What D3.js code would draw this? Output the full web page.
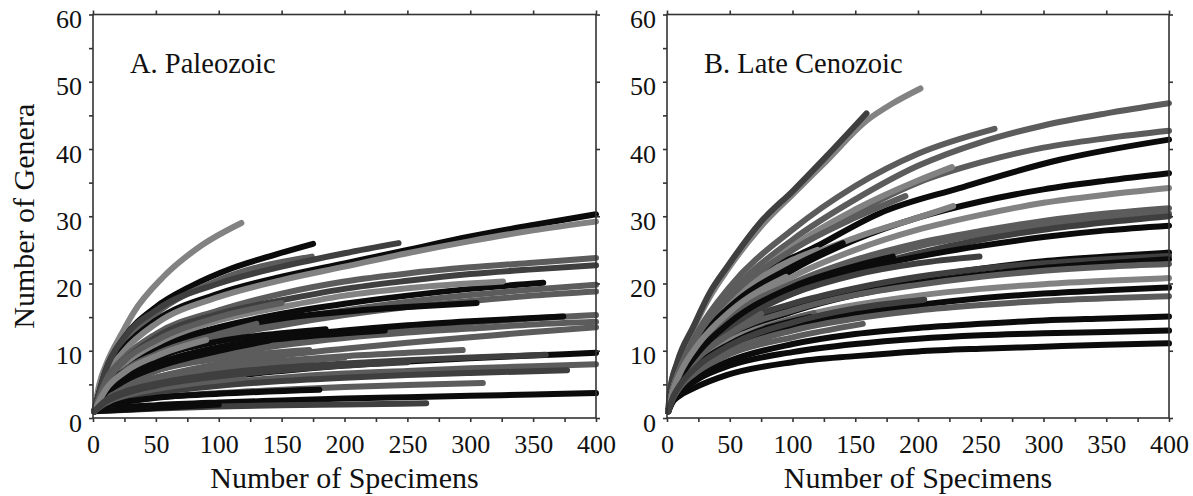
<!DOCTYPE html>
<html>
<head>
<meta charset="utf-8">
<script src="https://cdn.jsdelivr.net/npm/d3@7"></script>
<style>
  body { margin: 0; background: #fff; }
  svg text { font-family: "Liberation Serif", "Times New Roman", serif; fill: #111; }
</style>
</head>
<body>
<script>
const WIDTH = 1193;
const HEIGHT = 496;

// shade index: 0 black, 1 dark gray, 2 mid gray, 3 light gray
const paleozoicShades = [3, 0, 2, 0, 3, 1, 2, 1, 0, 3, 2, 2, 0, 2, 0, 2, 2, 0, 2, 0, 2, 2, 2, 1, 2, 0, 1, 0, 0, 2, 0, 2, 2, 1, 0, 3, 1];
const paleozoicCurves = [
  [[1,1],[5,5],[11,8.2],[23,12.6],[32,15.6],[56,21],[85,25.5],[118,29]],
  [[1,1],[10,7],[25,12],[50,16.5],[77,19.5],[111,22.3],[145,24.3],[175,25.9]],
  [[1,1],[10,6.5],[25,11],[50,15.5],[100,20.5],[174,24]],
  [[1,1],[10,6.5],[25,10.5],[50,14.5],[100,18.5],[150,21],[200,23],[250,25],[300,27],[350,28.7],[400,30.3]],
  [[1,1],[10,6],[25,10],[50,14],[100,18],[150,20.5],[200,22.5],[250,24.5],[300,26.3],[350,27.9],[400,29.2]],
  [[1,1],[10,7],[25,12],[50,16],[100,20],[150,22.5],[200,24.5],[243,26]],
  [[1,1],[10,5.5],[25,9],[50,12.5],[100,16],[150,18.5],[200,20.3],[250,21.5],[300,22.4],[350,23.1],[400,23.8]],
  [[1,1],[10,5],[25,8.5],[50,12],[100,15.5],[150,17.5],[200,19.2],[250,20.4],[300,21.4],[350,22.1],[400,22.7]],
  [[1,1],[10,4.5],[25,7.5],[50,10.5],[100,13.5],[150,15.5],[200,17],[250,18.2],[300,19.2],[358,20.1]],
  [[1,1],[10,5],[25,8],[50,11],[100,14.5],[150,16.5],[200,18.2],[250,19.3],[326,20.3]],
  [[1,1],[10,4.5],[25,7],[50,9.5],[100,12.5],[150,14.5],[200,16],[250,17.3],[300,18.3],[350,19.1],[400,19.8]],
  [[1,1],[10,4],[25,6.5],[50,9],[100,12],[150,13.8],[200,15.3],[250,16.5],[300,17.4],[350,18.2],[400,18.8]],
  [[1,1],[10,4.5],[25,7],[50,10],[100,13],[150,14.8],[200,15.8],[250,16.5],[305,17.1]],
  [[1,1],[10,3.5],[25,5.5],[50,7.5],[100,10],[150,11.5],[200,12.5],[250,13.4],[300,14.1],[350,14.8],[400,15.3]],
  [[1,1],[10,3.5],[25,5.8],[50,8],[100,10.5],[150,12],[200,13],[250,13.8],[300,14.4],[374,15.1]],
  [[1,1],[10,3.2],[25,5],[50,7],[100,9.3],[150,10.8],[200,11.9],[250,12.7],[300,13.3],[350,13.9],[400,14.3]],
  [[1,1],[10,3],[25,4.5],[50,6],[100,8],[150,9.3],[200,10.3],[250,11.2],[300,12],[350,12.8],[400,13.5]],
  [[1,1],[10,4],[25,6],[50,8],[100,10.5],[150,11.8],[200,12.6],[232,13]],
  [[1,1],[10,5],[25,8.5],[50,11.5],[100,15],[150,17.1]],
  [[1,1],[10,2.5],[25,3.5],[50,4.5],[100,6],[150,7],[200,7.8],[250,8.4],[300,8.9],[350,9.3],[400,9.7]],
  [[1,1],[10,3],[25,4.5],[50,6],[100,7.5],[150,8.5],[200,9.2],[250,9.7],[294,10.1]],
  [[1,1],[10,3],[25,5],[50,7],[100,8.8],[172,10.1]],
  [[1,1],[10,2],[25,3],[50,4],[100,5.2],[150,6],[200,6.6],[250,7],[300,7.4],[350,7.7],[400,8]],
  [[1,1],[10,2],[25,2.8],[50,3.7],[100,4.8],[150,5.5],[200,6],[250,6.4],[300,6.7],[377,7.1]],
  [[1,1],[10,1.8],[25,2.4],[50,3],[100,3.7],[150,4.2],[200,4.6],[250,4.9],[310,5.2]],
  [[1,1],[10,1.3],[25,1.6],[50,1.9],[100,2.3],[150,2.6],[200,2.9],[250,3.1],[300,3.3],[350,3.5],[400,3.7]],
  [[1,1],[25,1.2],[50,1.4],[100,1.7],[150,1.9],[200,2],[265,2.2]],
  [[1,1],[10,1.8],[25,2.4],[50,3],[100,3.6],[180,4.2]],
  [[1,1],[50,1.5],[100,2]],
  [[1,1],[10,2.2],[25,3.3],[50,4.3],[120,6]],
  [[1,1],[10,3.5],[25,5.5],[50,7.5],[100,10],[140,11.5]],
  [[1,1],[10,4],[25,7],[50,9.5],[100,12.5],[130,14]],
  [[1,1],[10,2.8],[25,4.2],[50,5.6],[100,7.2],[150,8.2],[200,9]],
  [[1,1],[10,2.4],[25,3.6],[50,4.8],[100,6.2],[150,7.1],[200,7.8],[250,8.3]],
  [[1,1],[10,3.8],[25,6.2],[50,8.8],[100,11.4],[150,12.6],[185,13.2]],
  [[1,1],[10,4.2],[25,6.8],[50,9.2],[90,11.6]],
  [[1,1],[10,2.6],[25,3.9],[50,5.1],[100,6.6],[150,7.5],[200,8.1],[250,8.6],[300,9],[360,9.4]]
];

const cenozoicShades = [3, 1, 2, 2, 2, 0, 3, 0, 3, 3, 2, 2, 1, 0, 0, 1, 0, 2, 3, 0, 2, 0, 0, 0, 2, 2, 1, 3, 0, 2, 0, 2, 0, 3, 1];
const cenozoicCurves = [
  [[1,1],[2.4,4],[8,8],[21,13.3],[34,18],[48,22],[74,28.3],[101,33.4],[127,38.2],[159,44.2],[180,46.8],[202,49]],
  [[1,1],[2.4,4],[8,8.2],[21,13.6],[34,18.6],[48,22.5],[74,29],[101,33.9],[127,38.9],[159,45.3]],
  [[1,1],[5,4.5],[10,7],[25,12.5],[50,18.5],[100,26.5],[150,32.5],[200,37.5],[250,41],[300,43.5],[350,45.3],[400,46.8]],
  [[1,1],[5,4.5],[10,7.2],[25,13],[50,19.5],[100,28],[150,34.5],[200,39.3],[261,43]],
  [[1,1],[5,4.3],[10,6.8],[25,12],[50,17.5],[100,25],[150,30.5],[200,35],[250,38],[300,40.2],[350,41.6],[400,42.7]],
  [[1,1],[5,4],[10,6],[25,11],[50,16.5],[74,21],[119,25.5],[170,30.5],[233,34.2],[313,38.4],[400,41.4]],
  [[1,1],[5,4.3],[10,6.8],[25,12],[50,17.5],[100,25.5],[150,31],[200,35.3],[227,37.3]],
  [[1,1],[5,4],[10,6.2],[25,10.5],[50,15.5],[100,22],[150,26.5],[200,29.8],[250,32.2],[300,34],[350,35.3],[400,36.4]],
  [[1,1],[5,4],[10,6],[25,10.5],[50,15],[100,21],[150,25],[200,28],[250,30.2],[300,32],[350,33.2],[400,34.2]],
  [[1,1],[5,4.5],[10,7],[25,12],[50,17],[100,23],[150,26.8],[200,29.8],[228,31.5]],
  [[1,1],[5,3.8],[10,5.8],[25,10],[50,14.5],[100,20],[150,23.5],[200,26],[250,27.8],[300,29.3],[350,30.4],[400,31.2]],
  [[1,1],[5,4],[10,6],[25,10.5],[50,15],[100,20],[150,23],[200,25.5],[250,27.3],[300,28.7],[350,29.7],[400,30.4]],
  [[1,1],[5,3.5],[10,5.5],[25,9.5],[50,13.5],[100,18.5],[150,22],[200,24.5],[250,26.5],[300,28],[350,29.1],[400,30]],
  [[1,1],[5,3.5],[10,5.5],[25,9.5],[50,14],[100,19],[150,22],[200,24],[250,25.6],[300,26.9],[350,27.9],[400,28.6]],
  [[1,1],[5,3.5],[10,5.3],[25,9],[50,12.5],[100,16.5],[150,19],[200,20.8],[250,22.2],[300,23.3],[350,24],[400,24.6]],
  [[1,1],[5,4],[10,6],[25,10],[50,13.5],[100,17],[150,19.3],[200,21],[250,22.2],[300,23],[350,23.6],[400,24.1]],
  [[1,1],[5,3.2],[10,5],[25,8.5],[50,12],[100,15.8],[150,18.3],[200,20],[250,21.3],[300,22.3],[350,23],[400,23.6]],
  [[1,1],[5,3.5],[10,5.3],[25,9],[50,12.5],[100,16],[150,18.3],[200,19.8],[250,21],[300,21.9],[350,22.5],[400,22.9]],
  [[1,1],[5,3.3],[10,5],[25,8.5],[50,11.5],[100,14.8],[150,16.8],[200,18.2],[250,19.2],[300,19.9],[350,20.4],[400,20.8]],
  [[1,1],[5,3],[10,4.5],[25,7.5],[50,10.5],[100,13.5],[150,15.5],[200,16.8],[250,17.8],[300,18.5],[350,19],[400,19.4]],
  [[1,1],[5,3],[10,4.5],[25,7.3],[50,10],[100,13],[150,14.8],[200,16],[250,16.8],[300,17.4],[350,17.8],[400,18.1]],
  [[1,1],[5,2.8],[10,4],[25,6.3],[50,8.5],[100,11],[150,12.5],[200,13.4],[250,14],[300,14.5],[350,14.8],[400,15.1]],
  [[1,1],[5,2.7],[10,3.8],[25,5.8],[50,7.8],[100,9.8],[150,11],[200,11.8],[250,12.3],[300,12.6],[350,12.8],[400,13]],
  [[1,1],[5,2.5],[10,3.3],[21,4.4],[48,6.4],[100,8.3],[150,9.2],[200,9.9],[250,10.3],[300,10.6],[350,10.9],[400,11.1]],
  [[1,1],[5,3],[10,4.5],[25,7],[50,9.5],[100,12],[156,14]],
  [[1,1],[5,3.3],[10,5],[25,8],[50,11],[117,15.6]],
  [[1,1],[5,4],[10,6],[25,10],[50,14],[100,18.5],[150,21.3],[200,23],[249,24]],
  [[1,1],[5,4.5],[10,7],[25,12],[50,17],[80,21.5],[120,25]],
  [[1,1],[5,3.5],[10,5],[25,8],[50,11],[114,15]],
  [[1,1],[5,3.5],[10,5.5],[25,9],[50,12.5],[75,15.5]],
  [[1,1],[5,4],[10,6.5],[25,11.5],[50,16.5],[100,22.5],[140,26]],
  [[1,1],[5,4.5],[10,7],[25,12.5],[50,18],[100,25],[150,29.8],[190,33]],
  [[1,1],[5,3.8],[10,5.8],[25,9.8],[50,14.2],[100,19.5],[150,22.6],[180,24]],
  [[1,1],[5,4.2],[10,6.5],[25,11],[50,15.8],[95,21]],
  [[1,1],[5,3.2],[10,4.8],[25,7.8],[50,10.8],[100,14.2],[150,16.3],[205,17.6]]
];

const panelTitles = ['A. Paleozoic', 'B. Late Cenozoic'];
const xTicks = d3.range(0, 401, 25);
const xTopTicks = d3.range(0, 401, 50);
const yTicks = d3.range(0, 61, 5);
const yRightTicks = d3.range(0, 61, 10);

const shadeColor = d3.scaleOrdinal().domain([0, 1, 2, 3]).range(['#0b0b0b', '#3f3f3f', '#5c5c5c', '#828282']);

const svg = d3.select('body').append('svg')
  .attr('width', WIDTH)
  .attr('height', HEIGHT);

const panels = [
  {left: 93, right: 596, curves: paleozoicCurves, shades: paleozoicShades, title: panelTitles[0]},
  {left: 667, right: 1169, curves: cenozoicCurves, shades: cenozoicShades, title: panelTitles[1]}
];

const TOP = 14.5;
const BOTTOM = 418;

panels.forEach((p, pi) => {
  const x = d3.scaleLinear().domain([0, 400]).range([p.left, p.right]);
  const y = d3.scaleLinear().domain([0, 60]).range([BOTTOM, TOP]);
  const g = svg.append('g');

  const line = d3.line()
    .x(d => x(d[0]))
    .y(d => y(d[1]))
    .curve(d3.curveMonotoneX);

  g.selectAll('path.curve')
    .data(p.curves)
    .enter()
    .append('path')
    .attr('class', 'curve')
    .attr('d', line)
    .attr('fill', 'none')
    .attr('stroke', (d, i) => shadeColor(p.shades[i]))
    .attr('stroke-width', 6)
    .attr('stroke-linecap', 'round')
    .attr('stroke-linejoin', 'round');

  // frame
  g.append('rect')
    .attr('x', p.left).attr('y', TOP)
    .attr('width', p.right - p.left).attr('height', BOTTOM - TOP)
    .attr('fill', 'none')
    .attr('stroke', '#333')
    .attr('stroke-width', 1.6);

  const axisStyle = sel => {
    sel.select('.domain').remove();
    sel.selectAll('line').attr('stroke', '#333').attr('stroke-width', 1.6);
    sel.selectAll('text').attr('fill', '#111').style('font-size', '26px')
      .style('font-family', '"Liberation Serif", serif');
  };

  g.append('g')
    .attr('transform', `translate(0,${BOTTOM})`)
    .call(d3.axisBottom(x).tickValues(xTicks).tickSize(4).tickPadding(13)
      .tickFormat(d => d % 50 === 0 ? d : ''))
    .call(axisStyle);

  g.append('g')
    .attr('transform', `translate(0,${TOP})`)
    .call(d3.axisTop(x).tickValues(xTopTicks).tickSize(4).tickFormat(''))
    .call(axisStyle);

  g.append('g')
    .attr('transform', `translate(${p.left},0)`)
    .call(d3.axisLeft(y).tickValues(yTicks).tickSize(4).tickPadding(7)
      .tickFormat(d => d % 10 === 0 ? d : ''))
    .call(axisStyle)
    .selectAll('text').attr('dy', '0.5em');

  g.append('g')
    .attr('transform', `translate(${p.right},0)`)
    .call(d3.axisRight(y).tickValues(yRightTicks).tickSize(4).tickFormat(''))
    .call(axisStyle);

  g.append('text')
    .attr('x', (p.left + p.right) / 2)
    .attr('y', 488)
    .attr('text-anchor', 'middle')
    .style('font-size', '30px')
    .text('Number of Specimens');

  g.append('text')
    .attr('x', p.left + 37)
    .attr('y', 73)
    .style('font-size', '28.5px')
    .text(p.title);
});

svg.append('text')
  .attr('transform', `translate(34,${(TOP + BOTTOM) / 2}) rotate(-90)`)
  .attr('text-anchor', 'middle')
  .style('font-size', '30px')
  .text('Number of Genera');
</script>
</body>
</html>
